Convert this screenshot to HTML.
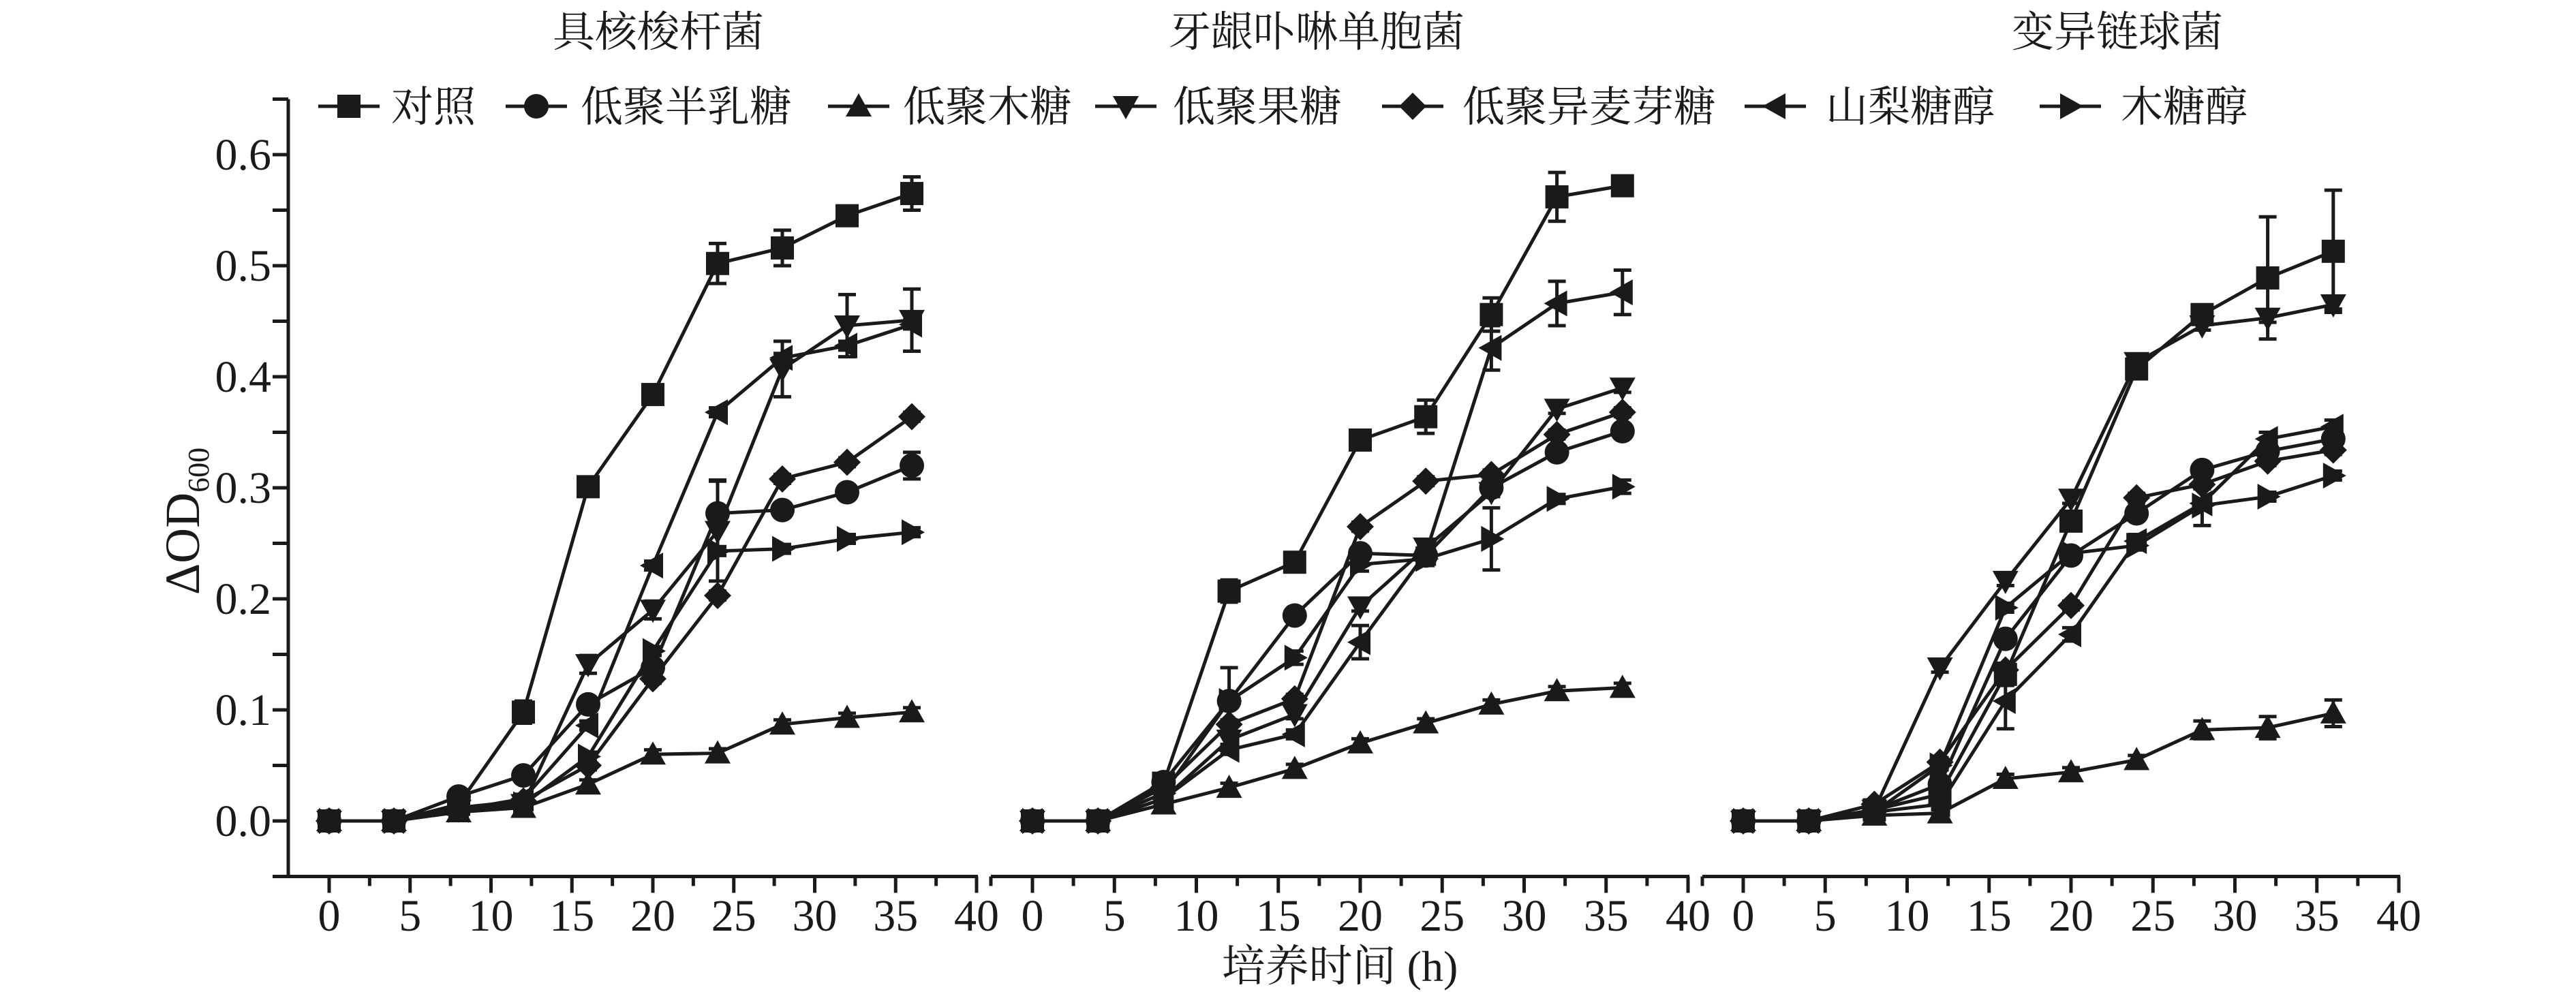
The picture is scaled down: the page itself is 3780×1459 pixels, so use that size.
<!DOCTYPE html>
<html><head><meta charset="utf-8">
<style>
html,body{margin:0;padding:0;background:#fff;}
svg{display:block;}
text{fill:#1a1a1a;}
</style></head>
<body>
<svg id="chart" width="3780" height="1459" viewBox="0 0 3780 1459" xmlns="http://www.w3.org/2000/svg"></svg>
<script>
// ---- data ----
const times = [0,4,8,12,16,20,24,28,32,36];
const seriesNames = ["对照","低聚半乳糖","低聚木糖","低聚果糖","低聚异麦芽糖","山梨糖醇","木糖醇"];
const seriesKeys = ["control","gos","xos","fos","imo","sorbitol","xylitol"];
const panelTitles = ["具核梭杆菌","牙龈卟啉单胞菌","变异链球菌"];
const xTicks = [0,5,10,15,20,25,30,35,40];
const yTicks = [0.0,0.1,0.2,0.3,0.4,0.5,0.6];
const yTickLabels = ["0.0","0.1","0.2","0.3","0.4","0.5","0.6"];

// panel 1: F. nucleatum
const p1Control  = [0,0,0.015,0.098,0.301,0.384,0.502,0.516,0.545,0.565];
const p1Gos      = [0,0,0.022,0.041,0.105,0.138,0.277,0.280,0.296,0.320];
const p1Xos      = [0,0,0.008,0.012,0.033,0.060,0.061,0.087,0.093,0.098];
const p1Fos      = [0,0,0.010,0.015,0.141,0.190,0.261,0.407,0.446,0.451];
const p1Imo      = [0,0,0.012,0.018,0.050,0.128,0.203,0.308,0.323,0.364];
const p1Sorbitol = [0,0,0.010,0.020,0.086,0.230,0.368,0.417,0.428,0.447];
const p1Xylitol  = [0,0,0.010,0.015,0.058,0.153,0.243,0.245,0.254,0.260];
const p1ErrControl = [0,0,0.004,0.010,0.004,0.004,0.018,0.016,0.008,0.015];
const p1ErrFos     = [0,0,0.003,0.003,0.008,0.008,0.045,0.025,0.028,0.028];
const p1ErrGos     = [0,0,0.003,0.003,0.006,0.006,0.030,0.004,0.004,0.012];

// panel 2: P. gingivalis
const p2Control  = [0,0,0.034,0.207,0.233,0.343,0.364,0.456,0.562,0.572];
const p2Gos      = [0,0,0.035,0.108,0.185,0.241,0.239,0.300,0.332,0.351];
const p2Xos      = [0,0,0.015,0.030,0.047,0.070,0.088,0.105,0.117,0.120];
const p2Fos      = [0,0,0.020,0.073,0.096,0.193,0.246,0.296,0.371,0.390];
const p2Imo      = [0,0,0.030,0.087,0.110,0.265,0.306,0.312,0.348,0.368];
const p2Sorbitol = [0,0,0.020,0.064,0.078,0.161,0.241,0.426,0.466,0.476];
const p2Xylitol  = [0,0,0.025,0.108,0.147,0.231,0.236,0.254,0.290,0.301];
const p2ErrControl = [0,0,0.004,0.010,0.004,0.004,0.015,0.015,0.022,0.008];
const p2ErrSorbitol= [0,0,0.004,0.004,0.004,0.015,0.006,0.020,0.020,0.020];
const p2ErrXylitol = [0,0,0.004,0.030,0.006,0.006,0.006,0.028,0.004,0.006];

// panel 3: S. mutans
const p3Control  = [0,0,0.010,0.024,0.132,0.270,0.407,0.456,0.489,0.513];
const p3Gos      = [0,0,0.010,0.033,0.164,0.239,0.277,0.316,0.333,0.344];
const p3Xos      = [0,0,0.005,0.007,0.038,0.044,0.055,0.082,0.084,0.097];
const p3Fos      = [0,0,0.010,0.138,0.216,0.290,0.413,0.446,0.453,0.465];
const p3Imo      = [0,0,0.015,0.053,0.136,0.194,0.291,0.303,0.324,0.334];
const p3Sorbitol = [0,0,0.008,0.015,0.108,0.168,0.252,0.286,0.344,0.355];
const p3Xylitol  = [0,0,0.008,0.050,0.192,0.241,0.248,0.284,0.292,0.311];
const p3ErrControl = [0,0,0.003,0.004,0.010,0.006,0.008,0.006,0.055,0.055];
const p3ErrSorbitol= [0,0,0.003,0.004,0.025,0.006,0.006,0.020,0.006,0.006];
const p3ErrXos     = [0,0,0.003,0.003,0.004,0.004,0.004,0.008,0.010,0.012];

const panelSeries = [
  [p1Control,p1Gos,p1Xos,p1Fos,p1Imo,p1Sorbitol,p1Xylitol],
  [p2Control,p2Gos,p2Xos,p2Fos,p2Imo,p2Sorbitol,p2Xylitol],
  [p3Control,p3Gos,p3Xos,p3Fos,p3Imo,p3Sorbitol,p3Xylitol]
];
const panelErrors = [
  [p1ErrControl,p1ErrGos,null,p1ErrFos,null,null,null],
  [p2ErrControl,null,null,null,null,p2ErrSorbitol,p2ErrXylitol],
  [p3ErrControl,null,p3ErrXos,null,null,p3ErrSorbitol,null]
];

// ---- layout ----
const NS = "http://www.w3.org/2000/svg";
const svg = document.getElementById("chart");
const panels = [
  {x0:483, x40:1433, axStart:421, titleX:966},
  {x0:1515, x40:2477, axStart:1454, titleX:1932},
  {x0:2558, x40:3520, axStart:2498, titleX:3107}
];
const Y0 = 1205, PER = 1630; // px per 1.0
function yScale(v){ return Y0 - v*PER; }
const axisY = yScale(-0.05);
const SERIF = '"Liberation Serif","Noto Serif CJK SC",serif';

function el(tag, attrs, parent){
  const e = document.createElementNS(NS, tag);
  for (const k in attrs) e.setAttribute(k, attrs[k]);
  (parent||svg).appendChild(e);
  return e;
}
function txt(str, attrs, parent){
  const t = el("text", attrs, parent);
  t.textContent = str;
  return t;
}
function marker(kind, cx, cy, g){
  const s = 17;
  let m;
  if (kind===0) m = el("rect",{x:cx-s,y:cy-s,width:2*s,height:2*s,fill:"#1a1a1a"},g);
  else if (kind===1) m = el("circle",{cx:cx,cy:cy,r:s+1,fill:"#1a1a1a"},g);
  else if (kind===2) m = el("polygon",{points:`${cx},${cy-s-2} ${cx+s+2},${cy+s-2} ${cx-s-2},${cy+s-2}`,fill:"#1a1a1a"},g);
  else if (kind===3) m = el("polygon",{points:`${cx},${cy+s+2} ${cx+s+2},${cy-s+2} ${cx-s-2},${cy-s+2}`,fill:"#1a1a1a"},g);
  else if (kind===4) m = el("polygon",{points:`${cx},${cy-s-3} ${cx+s+3},${cy} ${cx},${cy+s+3} ${cx-s-3},${cy}`,fill:"#1a1a1a"},g);
  else if (kind===5) m = el("polygon",{points:`${cx-s-2},${cy} ${cx+s-2},${cy-s-2} ${cx+s-2},${cy+s+2}`,fill:"#1a1a1a"},g);
  else m = el("polygon",{points:`${cx+s+2},${cy} ${cx-s+2},${cy-s-2} ${cx-s+2},${cy+s+2}`,fill:"#1a1a1a"},g);
  return m;
}

// y axis (only on first panel)
const yAxis = el("g",{});


el("line",{x1:423,y1:yScale(0.65),x2:423,y2:axisY,stroke:"#1a1a1a","stroke-width":5},yAxis);
for (let i=0;i<=14;i++){
  const v = -0.05 + i*0.05;
  const y = yScale(v);
  el("line",{x1:400,y1:y,x2:423,y2:y,stroke:"#1a1a1a","stroke-width":5},yAxis);
}
yTicks.forEach((v,i)=>{
  const t = txt(yTickLabels[i],{x:398,y:yScale(v)+22,"text-anchor":"end","font-family":SERIF,"font-size":66},yAxis);
  
  
});
const yl = txt("",{transform:"translate(292,765) rotate(-90)","text-anchor":"middle","font-family":SERIF,"font-size":72},svg);


yl.innerHTML = 'ΔOD<tspan font-size="44" dy="14">600</tspan>';

panels.forEach((p,pi)=>{
  const xs = v => p.x0 + (v/40)*(p.x40-p.x0);
  const g = el("g",{});
  
  
  const tt = txt(panelTitles[pi],{x:p.titleX,y:68,"text-anchor":"middle","font-family":SERIF,"font-size":62},g);
  
  
  // x axis
  const xa = el("g",{},g);
  
  
  el("line",{x1:p.axStart,y1:axisY,x2:p.x40+2,y2:axisY,stroke:"#1a1a1a","stroke-width":5},xa);
  for (let i=0;i<=16;i++){
    const v = i*2.5;
    const major = i%2===0;
    el("line",{x1:xs(v),y1:axisY,x2:xs(v),y2:axisY+(major?24:14),stroke:"#1a1a1a","stroke-width":5},xa);
  }
  if (pi>0) el("line",{x1:p.axStart,y1:axisY,x2:p.axStart,y2:axisY+14,stroke:"#1a1a1a","stroke-width":5},xa);
  xTicks.forEach(v=>{
    const t = txt(String(v),{x:xs(v),y:1366,"text-anchor":"middle","font-family":SERIF,"font-size":66},xa);
    
    
  });
  // series
  panelSeries[pi].forEach((vals,si)=>{
    const sg = el("g",{},g);
    
    
    const pts = vals.map((v,i)=>xs(times[i])+","+yScale(v)).join(" ");
    el("polyline",{points:pts,fill:"none",stroke:"#1a1a1a","stroke-width":5},sg);
    const errs = panelErrors[pi][si];
    vals.forEach((v,i)=>{
      const e = errs ? errs[i] : 0.004;
      if (e>0.002 && times[i]>4){
        const cx = xs(times[i]);
        el("line",{x1:cx,y1:yScale(v+e),x2:cx,y2:yScale(v-e),stroke:"#1a1a1a","stroke-width":5},sg);
        el("line",{x1:cx-13,y1:yScale(v+e),x2:cx+13,y2:yScale(v+e),stroke:"#1a1a1a","stroke-width":5},sg);
        el("line",{x1:cx-13,y1:yScale(v-e),x2:cx+13,y2:yScale(v-e),stroke:"#1a1a1a","stroke-width":5},sg);
      }
      const m = marker(si, xs(times[i]), yScale(v), sg);
      
      
    });
  });
});

// x axis title
const xt = txt("培养时间 (h)",{x:1966,y:1440,"text-anchor":"middle","font-family":SERIF,"font-size":64},svg);



// legend
const legendLineX = [467,742,1215,1607,2028,2560,2993];
const legendTextX = [574,852,1325,1721,2146,2679,3112];
const legend = el("g",{});


seriesNames.forEach((n,i)=>{
  const lg = el("g",{},legend);
  
  
  const lx = legendLineX[i];
  el("line",{x1:lx,y1:156,x2:lx+90,y2:156,stroke:"#1a1a1a","stroke-width":5},lg);
  marker(i, lx+45, 156, lg);
  txt(n,{x:legendTextX[i],y:178,"font-family":SERIF,"font-size":62},lg);
});
</script>
</body></html>
